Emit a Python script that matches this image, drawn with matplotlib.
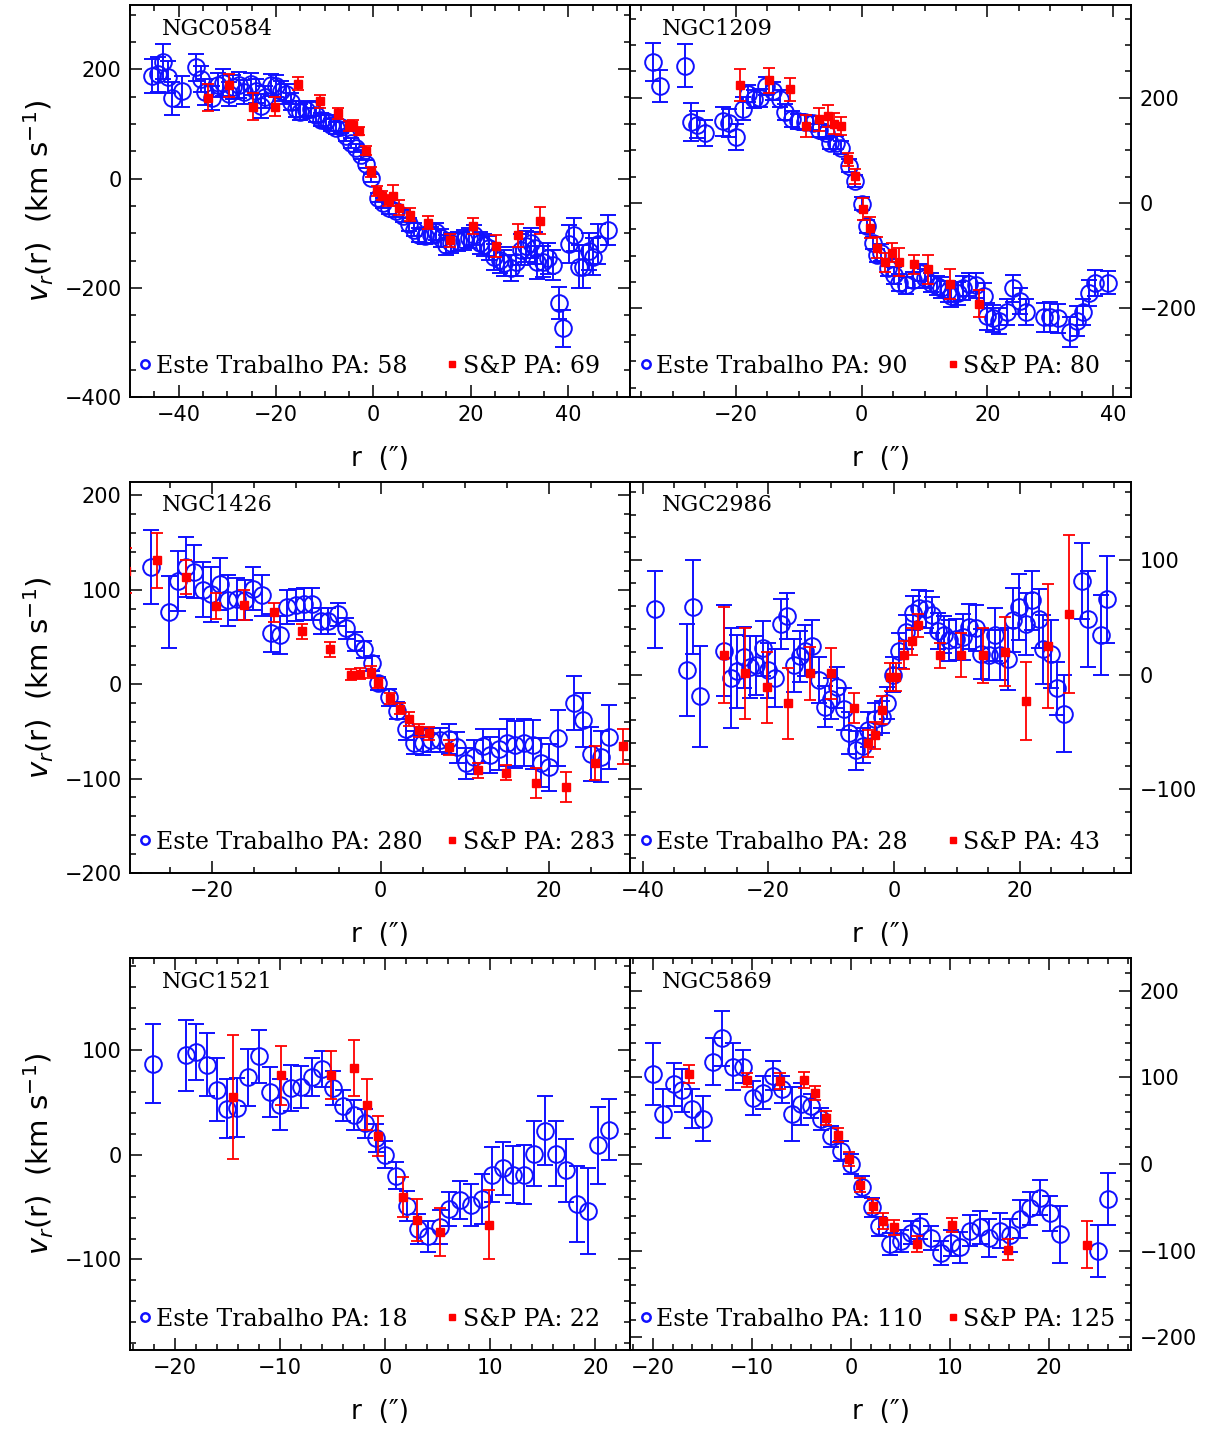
import matplotlib
matplotlib.use("Agg")
import matplotlib.pyplot as plt
from matplotlib.ticker import MultipleLocator
from matplotlib.lines import Line2D

# ---- NGC0584 ----
n0584_r = [-45.4, -44.3, -43.3, -42.2, -41.3, -39.3, -36.4, -35.4, -34.5, -33.1, -32.0, -30.8, -29.6, -28.8,
           -27.7, -26.5, -25.1, -24.1, -23.1, -22.2, -21.0, -20.0, -19.0, -17.9, -16.9, -16.0, -15.1, -13.8,
           -12.8, -11.8, -10.7, -9.7, -8.7, -7.7, -6.6, -5.6, -4.6, -3.6, -2.5, -1.5, -0.5, 0.9,
           1.9, 3.3, 4.7, 6.0, 7.4, 8.4, 9.4, 10.5, 11.8, 12.9, 13.9, 14.9, 16.0, 17.3, 18.7, 19.7, 20.7,
           21.8, 22.8, 23.8, 24.8, 25.9, 26.9, 28.3, 29.3, 30.3, 31.4, 32.4, 33.1, 33.7, 34.8, 35.8, 36.8,
           38.1, 39.0, 40.1, 41.1, 42.2, 43.1, 44.2, 45.2, 46.1, 48.1]
n0584_v = [188, 191, 214, 186, 147, 160, 204, 182, 159, 148, 172, 176, 155, 168,
           172, 159, 174, 160, 133, 149, 171, 170, 161, 155, 141, 127, 122, 126,
           128, 117, 108, 105, 98, 92, 94, 78, 65, 56, 44, 27, 1, -35,
           -45, -54, -60, -69, -84, -94, -103, -106, -103, -97, -109, -121, -118, -115, -112, -109, -103,
           -118, -121, -127, -143, -149, -155, -164, -152, -130, -124, -118, -127, -153, -152, -146, -158,
           -228, -274, -120, -103, -161, -161, -133, -143, -120, -94]
n0584_e = [32, 32, 32, 30, 30, 28, 25, 24, 24, 22, 22, 24, 22, 22,
           24, 22, 20, 22, 22, 20, 20, 20, 18, 18, 16, 15, 15, 14,
           14, 13, 12, 12, 11, 11, 10, 9, 9, 8, 8, 8, 8, 8,
           9, 10, 10, 11, 12, 12, 13, 14, 15, 15, 16, 18, 18, 18, 18, 18, 18,
           20, 20, 22, 24, 24, 24, 24, 26, 28, 28, 28, 30, 30, 28, 28, 28,
           29, 34, 35, 30, 40, 40, 34, 34, 36, 28]
n0584_sp_r = [-34.0, -29.6, -24.8, -20.2, -15.5, -10.9, -7.3, -5.1, -4.2, -2.9, -1.6, -0.5, 0.7, 1.8, 2.9,
              4.1, 5.3, 7.6, 11.2, 15.7, 20.4, 25.1, 29.6, 34.3]
n0584_sp_v = [148, 171, 132, 132, 174, 142, 120, 96, 98, 87, 51, 12, -22, -31, -40,
              -31, -53, -66, -81, -113, -87, -124, -104, -77]
n0584_sp_e = [25, 21, 24, 17, 12, 12, 10, 9, 9, 8, 8, 9, 9, 9, 10,
              20, 14, 12, 12, 12, 14, 20, 21, 25]

# ---- NGC1209 ----
n1209_r = [-33.2, -32.1, -28.1, -27.1, -26.2, -24.9, -22.1, -21.1, -20.0, -18.9, -18.0, -17.1, -16.2, -15.2,
           -14.1, -13.0, -12.1, -11.0, -10.1, -9.0, -7.8, -6.7, -5.6, -5.1, -4.1, -3.2, -2.0, -1.0, 0.0, 0.8,
           1.8, 2.4, 3.1, 4.2, 5.2, 6.0, 7.1, 8.1, 9.2, 10.0, 11.1, 11.9, 12.6, 13.7, 14.2, 15.3, 16.1, 17.0,
           18.2, 19.4, 20.0, 20.9, 21.8, 23.1, 24.1, 25.2, 26.1, 29.0, 29.9, 31.2, 33.1, 34.2, 35.1, 36.1,
           37.1, 39.1]
n1209_v = [267, 222, 261, 154, 149, 133, 155, 152, 126, 179, 208, 197, 200, 223,
           212, 198, 173, 160, 155, 153, 152, 138, 133, 114, 115, 105, 71, 42, -1, -44,
           -76, -99, -94, -123, -137, -151, -156, -146, -132, -143, -151, -157, -161, -167, -176, -171, -161, -154,
           -156, -176, -215, -219, -224, -207, -162, -186, -207, -217, -216, -219, -245, -224, -207, -171,
           -152, -151]
n1209_e = [36, 31, 41, 36, 25, 25, 28, 27, 25, 22, 17, 17, 17, 17,
           17, 16, 16, 15, 15, 15, 14, 12, 12, 12, 12, 12, 12, 12, 12, 12,
           12, 12, 16, 16, 16, 16, 16, 16, 16, 18, 18, 18, 20, 20, 22, 22, 22, 22,
           24, 24, 25, 25, 25, 25, 25, 25, 25, 28, 28, 28, 28, 28, 25, 25,
           25, 22]
n1209_sp_r = [-19.4, -14.7, -11.3, -8.9, -6.7, -5.4, -4.4, -3.2, -2.1, -1.0, 0.2, 1.4, 2.4, 3.7, 4.9,
              6.0, 8.3, 10.6, 14.1, 18.7]
n1209_sp_v = [224, 233, 216, 147, 159, 165, 151, 146, 83, 51, -12, -47, -85, -112, -94,
              -112, -116, -126, -154, -191]
n1209_sp_e = [31, 24, 22, 21, 22, 21, 20, 17, 12, 14, 21, 20, 20, 18, 18,
              27, 18, 27, 28, 26]

# ---- NGC1426 ----
n1426_r = [-27.2, -25.1, -24.1, -23.1, -22.1, -21.1, -20.1, -19.1, -18.1, -17.1, -16.1, -15.1, -14.1, -13.0,
           -12.0, -11.1, -10.1, -9.1, -8.1, -7.1, -6.2, -5.1, -4.1, -3.0, -2.0, -1.0, -0.3,
           1.0, 1.9, 3.0, 4.0, 5.0, 6.0, 7.0, 8.1, 9.1, 10.1, 11.1, 12.1, 13.0, 14.0, 15.0, 16.0, 17.0,
           18.1, 19.0, 20.0, 21.0, 23.0, 24.0, 25.0, 26.1, 27.1]
n1426_v = [124, 76, 109, 124, 119, 100, 95, 106, 89, 90, 89, 101, 94, 54,
           52, 82, 84, 85, 85, 67, 67, 74, 59, 45, 37, 22, 1,
           -14, -28, -48, -62, -62, -59, -59, -58, -67, -84, -77, -66, -75, -69, -62, -64, -62,
           -64, -83, -88, -57, -20, -38, -74, -77, -56]
n1426_e = [39, 38, 32, 32, 28, 29, 29, 28, 27, 22, 21, 23, 22, 20,
           20, 18, 17, 17, 17, 14, 14, 12, 11, 10, 9, 8, 7,
           9, 9, 11, 12, 13, 13, 13, 16, 16, 16, 18, 18, 19, 22, 25, 25, 25,
           26, 26, 25, 30, 29, 29, 29, 27, 34]
n1426_sp_r = [-30.2, -26.5, -23.1, -19.6, -16.2, -12.7, -9.3, -6.0, -3.5, -2.4, -1.2, -0.3, 1.1, 2.3, 3.4,
              4.6, 5.8, 8.1, 11.5, 14.9, 18.4, 22.0, 25.4, 28.8]
n1426_sp_v = [120, 131, 113, 83, 84, 76, 56, 37, 10, 11, 13, 1, -15, -26, -37,
              -49, -52, -67, -91, -94, -105, -109, -84, -66]
n1426_sp_e = [24, 29, 18, 14, 16, 10, 8, 8, 6, 6, 6, 5, 6, 6, 7,
              7, 7, 8, 8, 8, 16, 16, 18, 19]

# ---- NGC2986 ----
n2986_r = [-38.0, -33.0, -32.0, -30.9, -27.0, -26.0, -25.0, -23.9, -22.9, -22.0, -20.9, -20.1, -19.0, -18.0,
           -17.1, -15.9, -15.0, -14.1, -13.0, -12.0, -11.0, -10.0, -9.1, -8.0, -7.1, -6.0, -5.0, -4.1, -3.0,
           -1.9, -1.1, -0.1, 0.8, 1.9, 3.0, 4.0, 5.1, 6.0, 7.0, 7.9, 8.8, 9.9, 10.9, 11.9, 13.0, 13.9,
           15.1, 16.0, 16.9, 18.1, 19.0, 19.9, 21.0, 21.9, 23.1, 23.7, 24.9, 26.0, 27.0, 29.9, 30.9, 33.0,
           33.9]
n2986_v = [57, 4, 59, -19, 21, -3, 3, 15, 7, 8, 23, 4, -3, 44,
           51, 8, 16, 21, 25, -5, -28, -21, -11, -30, -51, -66, -62, -48, -39,
           -37, -25, 0, 21, 37, 54, 58, 57, 52, 38, 35, 30, 31, 33, 42, 41, 18,
           17, 35, 17, 14, 48, 59, 44, 65, 49, 22, 18, -12, -34, 82, 49, 35,
           66]
n2986_e = [34, 40, 41, 44, 40, 44, 32, 27, 27, 26, 24, 24, 25, 22,
           20, 23, 22, 22, 23, 20, 18, 18, 18, 18, 18, 17, 15, 15, 14,
           14, 14, 15, 15, 15, 15, 16, 16, 16, 16, 16, 18, 18, 20, 20, 20, 22,
           22, 23, 22, 27, 28, 29, 27, 26, 26, 30, 30, 23, 34, 33, 42, 35,
           38]
n2986_sp_r = [-27.1, -23.7, -20.2, -16.8, -13.4, -10.0, -6.4, -4.2, -3.0, -1.9, -0.7, 0.3, 1.6, 2.8, 3.8,
              7.3, 10.7, 14.2, 17.7, 21.0, 24.5, 27.9]
n2986_sp_v = [17, 1, -11, -25, 1, 1, -29, -60, -53, -31, -2, -2, 17, 29, 43,
              17, 17, 17, 20, -23, 25, 53]
n2986_sp_e = [42, 40, 31, 31, 23, 22, 13, 12, 12, 12, 12, 12, 12, 12, 10,
              11, 19, 24, 30, 34, 54, 69]

# ---- NGC1521 ----
n1521_r = [-22.1, -19.0, -18.0, -17.0, -16.0, -15.1, -14.1, -13.1, -12.0, -11.0, -10.0, -9.0, -8.0, -7.0,
           -6.0, -5.0, -4.0, -3.0, -1.9, -0.9, 0.0, 1.0, 2.1, 3.1, 4.1, 5.2, 6.1, 7.1, 8.2, 9.2, 10.2,
           11.2, 12.2, 13.2, 14.2, 15.2, 16.3, 17.2, 18.3, 19.3, 20.3, 21.3]
n1521_v = [87, 95, 98, 86, 62, 44, 45, 74, 94, 60, 48, 64, 65, 74,
           82, 64, 47, 38, 30, 16, 0, -20, -49, -71, -78, -69, -52, -43, -48, -42, -19,
           -13, -19, -19, 1, 23, 1, -15, -47, -54, 9, 24]
n1521_e = [38, 34, 27, 30, 30, 28, 28, 27, 25, 24, 24, 22, 20, 18,
           17, 16, 15, 14, 14, 13, 13, 13, 14, 14, 15, 16, 16, 18, 20, 24, 26,
           25, 27, 28, 31, 33, 31, 30, 36, 41, 37, 29]
n1521_sp_r = [-14.5, -9.9, -5.2, -3.0, -1.7, -0.7, 1.7, 3.0, 5.2, 9.9]
n1521_sp_v = [55, 76, 76, 83, 48, 18, -40, -62, -74, -67]
n1521_sp_e = [59, 28, 23, 27, 24, 19, 19, 20, 23, 33]

# ---- NGC5869 ----
n5869_r = [-20.0, -19.0, -17.9, -17.0, -16.0, -14.9, -13.9, -13.0, -11.9, -10.9, -9.9, -8.9, -7.9, -6.9,
           -5.9, -5.0, -4.0, -3.0, -2.0, -1.0, 0.0, 1.1, 2.1, 2.8, 4.0, 5.1, 6.1, 7.0, 8.1, 9.1, 10.1,
           11.0, 12.0, 13.0, 14.0, 15.1, 16.1, 17.1, 18.1, 19.1, 20.1, 21.1, 25.0, 26.0]
n5869_v = [104, 58, 92, 85, 64, 52, 118, 145, 112, 112, 76, 82, 102, 86,
           58, 69, 67, 52, 32, 15, 0, -26, -50, -72, -92, -89, -79, -72, -85, -103, -91,
           -96, -77, -73, -85, -77, -82, -63, -51, -39, -57, -81, -100, -40]
n5869_e = [36, 28, 25, 25, 23, 26, 27, 32, 27, 19, 20, 19, 17, 16,
           31, 24, 14, 13, 12, 12, 12, 12, 11, 11, 13, 13, 13, 14, 14, 14, 15,
           18, 18, 19, 22, 20, 19, 22, 19, 20, 20, 33, 30, 30]
n5869_sp_r = [-16.3, -10.5, -7.1, -4.7, -3.6, -2.5, -1.3, -0.2, 0.9, 2.2, 3.3, 4.4, 6.7, 10.2, 15.9, 23.9]
n5869_sp_v = [104, 97, 96, 97, 82, 53, 33, 6, -24, -48, -66, -73, -92, -70, -99, -93]
n5869_sp_e = [10, 8, 9, 9, 8, 8, 8, 8, 8, 8, 9, 9, 9, 8, 12, 27]

names = ["NGC0584", "NGC1209", "NGC1426", "NGC2986", "NGC1521", "NGC5869"]
pa_este = [58, 90, 280, 28, 18, 110]
pa_sp = [69, 80, 283, 43, 22, 125]

BLUE = "#1010ff"
RED = "#ff0000"

fig = plt.figure(figsize=(12.21, 14.31), dpi=100)

W = 1221.0
H = 1431.0
cols = [130, 630]
rows = [(5, 397), (482, 873), (958, 1350)]


def panel(ax, name, r, v, e, r2, v2, e2, pa1, pa2, xlim, ylim, xt, yt, right):
    ax.errorbar(r, v, yerr=e, fmt='o', ms=12, mfc='none', mec=BLUE, mew=1.4,
                color=BLUE, elinewidth=1.4, capsize=5.5, capthick=1.4, zorder=2)
    ax.errorbar(r2, v2, yerr=e2, fmt='s', ms=5.2, mfc=RED, mec=RED,
                color=RED, elinewidth=1.3, capsize=4.5, capthick=1.3, zorder=3)
    ax.set_xlim(*xlim)
    ax.set_ylim(*ylim)
    ax.xaxis.set_major_locator(MultipleLocator(xt[0]))
    ax.xaxis.set_minor_locator(MultipleLocator(xt[1]))
    ax.yaxis.set_major_locator(MultipleLocator(yt[0]))
    ax.yaxis.set_minor_locator(MultipleLocator(yt[1]))
    ax.tick_params(which='both', direction='in', top=True, bottom=True, left=True, right=True,
                   labelsize=15, width=1.1)
    ax.tick_params(which='major', length=8.5, pad=6)
    ax.tick_params(which='minor', length=4)
    if right:
        ax.tick_params(labelleft=False, labelright=True)
    else:
        ax.set_ylabel(r"$v_r$(r)  (km s$^{-1}$)", fontsize=21, labelpad=6)
    ax.set_xlabel("r  (″)", fontsize=19, labelpad=15)
    for s in ax.spines.values():
        s.set_linewidth(1.4)
    ax.text(0.064, 0.94, name, transform=ax.transAxes, fontsize=16,
            family='DejaVu Serif', va='center', ha='left')
    h1 = Line2D([], [], marker='o', ls='none', ms=6, mfc='none', mec=BLUE, mew=1.8)
    h2 = Line2D([], [], marker='s', ls='none', ms=4, mfc=RED, mec=RED)
    leg1 = ax.legend([h1], ["Este Trabalho PA: %d" % pa1], loc='center left',
                     bbox_to_anchor=(0.018, 0.079), frameon=False, borderpad=0, borderaxespad=0,
                     handlelength=0.55, handletextpad=0.15, prop={'family': 'DejaVu Serif', 'size': 17})
    ax.add_artist(leg1)
    ax.legend([h2], ["S&P PA: %d" % pa2], loc='center left',
              bbox_to_anchor=(0.632, 0.079), frameon=False, borderpad=0, borderaxespad=0,
              handlelength=0.55, handletextpad=0.15, prop={'family': 'DejaVu Serif', 'size': 17})


data = [
    (n0584_r, n0584_v, n0584_e, n0584_sp_r, n0584_sp_v, n0584_sp_e, (-50, 52.7), (-400, 318), (20, 5), (200, 50)),
    (n1209_r, n1209_v, n1209_e, n1209_sp_r, n1209_sp_v, n1209_sp_e, (-36.8, 42.8), (-368, 376), (20, 5), (200, 50)),
    (n1426_r, n1426_v, n1426_e, n1426_sp_r, n1426_sp_v, n1426_sp_e, (-29.75, 29.6), (-200, 214), (20, 5), (100, 20)),
    (n2986_r, n2986_v, n2986_e, n2986_sp_r, n2986_sp_v, n2986_sp_e, (-42.0, 37.7), (-173.5, 168.5), (20, 5), (100, 20)),
    (n1521_r, n1521_v, n1521_e, n1521_sp_r, n1521_sp_v, n1521_sp_e, (-24.3, 23.3), (-186.5, 188), (10, 2), (100, 20)),
    (n5869_r, n5869_v, n5869_e, n5869_sp_r, n5869_sp_v, n5869_sp_e, (-22.3, 28.3), (-214.5, 237.6), (10, 2), (100, 20)),
]

for i, d in enumerate(data):
    row = i // 2
    col = i % 2
    x0 = cols[col]
    x1 = cols[col] + (500 if col == 0 else 501)
    y0, y1 = rows[row]
    ax = fig.add_axes([x0 / W, 1 - y1 / H, (x1 - x0) / W, (y1 - y0) / H])
    panel(ax, names[i], d[0], d[1], d[2], d[3], d[4], d[5], pa_este[i], pa_sp[i],
          d[6], d[7], d[8], d[9], col == 1)

fig.savefig("out.png", dpi=100, facecolor='white')
